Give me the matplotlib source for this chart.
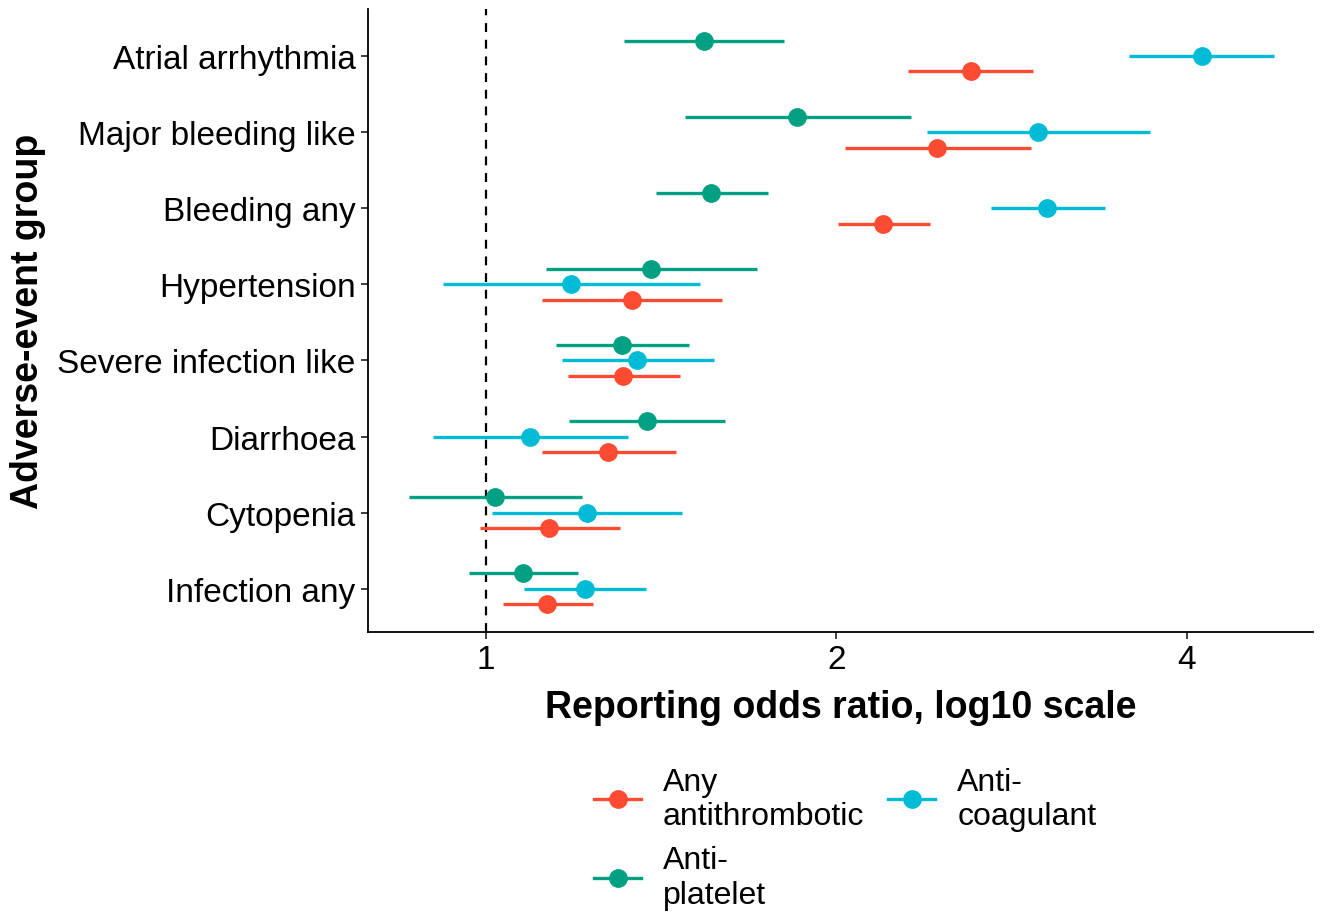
import matplotlib.pyplot as plt
from matplotlib.ticker import FixedLocator, NullLocator

groups = ['Infection any', 'Cytopenia', 'Diarrhoea', 'Severe infection like',
          'Hypertension', 'Bleeding any', 'Major bleeding like', 'Atrial arrhythmia']

# point estimate, lower CI, upper CI per group (same order as groups)
any_ror = [1.128, 1.133, 1.273, 1.311, 1.335, 2.193, 2.440, 2.610]
any_lo = [1.034, 0.988, 1.117, 1.176, 1.117, 2.006, 2.034, 2.304]
any_hi = [1.236, 1.304, 1.456, 1.467, 1.595, 2.406, 2.938, 2.950]

plat_ror = [1.076, 1.018, 1.375, 1.309, 1.386, 1.560, 1.850, 1.539]
plat_lo = [0.967, 0.859, 1.178, 1.149, 1.126, 1.400, 1.482, 1.314]
plat_hi = [1.199, 1.209, 1.604, 1.494, 1.709, 1.747, 2.318, 1.803]

coag_ror = [1.216, 1.221, 1.091, 1.348, 1.183, 3.033, 2.979, 4.12]
coag_lo = [1.078, 1.012, 0.901, 1.162, 0.918, 2.715, 2.392, 3.57]
coag_hi = [1.372, 1.473, 1.324, 1.570, 1.527, 3.40, 3.718, 4.75]

series = [
    ('Any\nantithrombotic', any_ror, any_lo, any_hi, '#FC4B30', -0.2),
    ('Anti-\nplatelet', plat_ror, plat_lo, plat_hi, '#00A083', 0.2),
    ('Anti-\ncoagulant', coag_ror, coag_lo, coag_hi, '#00BBD6', 0.0),
]

plt.rcParams['font.family'] = ['Liberation Sans', 'DejaVu Sans']

fig = plt.figure(figsize=(13.25, 9.2), dpi=100)
ax = fig.add_axes([0.2777, 0.312, 0.713, 0.677])

ax.axvline(1, color='black', linestyle=(0, (4, 3.5)), linewidth=1.6, zorder=1)

for name, est, lo, hi, col, off in series:
    ys = [i + off for i in range(len(groups))]
    ax.hlines(ys, lo, hi, color=col, linewidth=2.4, zorder=2)
    ax.plot(est, ys, 'o', color=col, markersize=12.5, zorder=3)

ax.set_xscale('log', base=2)
ax.set_xlim(0.792, 5.13)
ax.xaxis.set_major_locator(FixedLocator([1, 2, 4]))
ax.xaxis.set_minor_locator(NullLocator())
ax.set_xticklabels(['1', '2', '4'])
ax.set_ylim(-0.57, 7.62)
ax.set_yticks(range(len(groups)))
ax.set_yticklabels(groups)

for s in ['top', 'right']:
    ax.spines[s].set_visible(False)
for s in ['left', 'bottom']:
    ax.spines[s].set_linewidth(1.3)
ax.tick_params(axis='both', labelsize=24, length=5, width=1.3, colors='#333333',
               labelcolor='black', pad=4)

ax.set_xlabel('Reporting odds ratio, log10 scale', fontsize=27, fontweight='bold', labelpad=10)
ax.set_ylabel('Adverse-event group', fontsize=27, fontweight='bold', labelpad=8)

leg_handles = [plt.Line2D([], [], color=c, marker='o', markersize=12.5, linewidth=2.4)
               for _, _, _, _, c, _ in series]
fig.legend(leg_handles, [s[0] for s in series], loc='upper center',
           bbox_to_anchor=(0.638, 0.197), ncol=2, frameon=False, fontsize=23,
           handlelength=1.45, handletextpad=0.7, columnspacing=0.75, labelspacing=0.45)

fig.savefig('out.png', dpi=100)
